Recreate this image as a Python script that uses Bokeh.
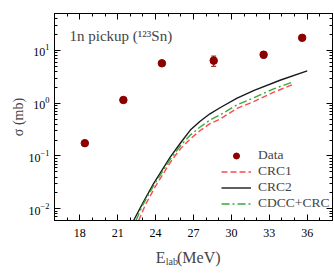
from bokeh.plotting import figure
from bokeh.layouts import column
from bokeh.models import (LinearAxis, LogAxis, SingleIntervalTicker, LogTicker, Range1d,
                          Label, Legend, LegendItem, Whisker, ColumnDataSource, TeeHead)
from bokeh.embed import file_html
from bokeh.resources import INLINE

# ---- data ----
data_E = [18.4, 21.45, 24.5, 28.6, 32.55, 35.6]
data_sigma = [0.175, 1.15, 5.7, 6.4, 8.3, 17.3]
data_err = [0.01, 0.06, 0.45, 1.4, 1.1, 1.0]

crc1_E = [22.66, 23.2, 24.0, 25.3, 26.0, 26.75, 27.5, 28.3, 29.1, 30.45, 31.8, 33.3, 34.95]
crc1_sigma = [0.006, 0.012, 0.027, 0.085, 0.14, 0.21, 0.30, 0.41, 0.5, 0.8, 1.08, 1.6, 2.3]

crc2_E = [22.26, 23.0, 23.84, 25.17, 26.0, 26.75, 27.5, 28.3, 29.1, 30.45, 31.8, 33.9, 36.0]
crc2_sigma = [0.006, 0.013, 0.030, 0.096, 0.18, 0.31, 0.45, 0.63, 0.82, 1.25, 1.75, 2.75, 4.1]

cdcc_E = [22.45, 23.0, 23.9, 25.2, 26.0, 26.75, 27.5, 28.3, 29.1, 30.45, 31.8, 33.3, 34.8]
cdcc_sigma = [0.006, 0.012, 0.029, 0.09, 0.16, 0.25, 0.35, 0.48, 0.6, 0.93, 1.28, 1.85, 2.5]

x_ticks_interval = 3
FONT = "Liberation Serif"

p = figure(frame_width=278, frame_height=207, y_axis_type="log",
           x_range=Range1d(16, 38), y_range=Range1d(0.006, 50),
           output_backend="svg", toolbar_location=None,
           min_border_left=54, min_border_top=13, min_border_right=2, min_border_bottom=21)
p.xgrid.visible = False
p.ygrid.visible = False
p.outline_line_color = "black"
p.outline_line_width = 1

xt = SingleIntervalTicker(interval=x_ticks_interval, num_minor_ticks=3)
yt = LogTicker(num_minor_ticks=10)

for ax in [p.xaxis[0], p.yaxis[0]]:
    ax.major_tick_in = 6
    ax.major_tick_out = 0
    ax.minor_tick_in = 3
    ax.minor_tick_out = 0
    ax.major_label_text_font = FONT
    ax.major_label_text_font_size = "12px"
    ax.major_label_text_color = "black"
    ax.axis_line_color = "black"
p.xaxis[0].ticker = xt
p.yaxis[0].ticker = yt
p.xaxis[0].major_label_standoff = 8
p.yaxis[0].major_label_standoff = 5
p.yaxis[0].axis_label = "σ (mb)"
p.yaxis[0].axis_label_text_font = FONT
p.yaxis[0].axis_label_text_font_size = "14px"
p.yaxis[0].axis_label_text_font_style = "normal"
p.yaxis[0].axis_label_standoff = 0

top = LinearAxis(ticker=xt, major_tick_in=6, major_tick_out=0, minor_tick_in=3, minor_tick_out=0,
                 major_label_text_font_size="1px", major_label_text_color=None, major_label_standoff=0)
right = LogAxis(ticker=yt, major_tick_in=6, major_tick_out=0, minor_tick_in=3, minor_tick_out=0,
                major_label_text_font_size="1px", major_label_text_color=None, major_label_standoff=0)
p.add_layout(top, "above")
p.add_layout(right, "right")

# curves
r_crc1 = p.line(crc1_E, crc1_sigma, line_color="#ff4a4a", line_width=1.4, line_dash="6 3")
r_crc2 = p.line(crc2_E, crc2_sigma, line_color="#1a1a1a", line_width=1.4)
r_cdcc = p.line(cdcc_E, cdcc_sigma, line_color="#3aa83a", line_width=1.4, line_dash="8 3 2 3")

src = ColumnDataSource(dict(x=data_E, y=data_sigma,
                            lo=[s - e for s, e in zip(data_sigma, data_err)],
                            hi=[s + e for s, e in zip(data_sigma, data_err)]))
wh = Whisker(source=src, base="x", lower="lo", upper="hi", line_color="#8b0000", line_width=1,
             upper_head=TeeHead(size=5, line_color="#8b0000"),
             lower_head=TeeHead(size=5, line_color="#8b0000"))
p.add_layout(wh)
r_data = p.scatter("x", "y", source=src, size=7.5, fill_color="#8b0000", line_color="#8b0000")

legend = Legend(items=[LegendItem(label="Data", renderers=[r_data]),
                       LegendItem(label="CRC1", renderers=[r_crc1]),
                       LegendItem(label="CRC2", renderers=[r_crc2]),
                       LegendItem(label="CDCC+CRC", renderers=[r_cdcc])],
                location=(167, 9), border_line_color=None, background_fill_alpha=0,
                label_text_font=FONT, label_text_font_size="13.5px",
                glyph_width=30, glyph_height=15, label_height=15, spacing=0,
                padding=0, margin=0, label_standoff=7)
p.add_layout(legend)

# title inside plot
p.add_layout(Label(x=15, y=185, x_units="screen", y_units="screen", text="1n pickup (¹²³Sn)",
                   text_font=FONT, text_font_size="15px", text_baseline="alphabetic"))

# x axis label (with subscript) in a thin strip below the plot (frame aligned with p)
p2 = figure(width=334, height=31, x_range=Range1d(0, 334), y_range=Range1d(0, 31),
            x_axis_type=None, y_axis_type=None, output_backend="svg", toolbar_location=None,
            min_border=0, outline_line_color=None)
p2.grid.visible = False
p2.add_layout(Label(x=101.3, y=14.7, x_units="screen", y_units="screen", text="E",
                    text_font=FONT, text_font_size="16px", text_baseline="alphabetic"))
p2.add_layout(Label(x=111.2, y=10.7, x_units="screen", y_units="screen", text="lab",
                    text_font=FONT, text_font_size="10px", text_baseline="alphabetic"))
p2.add_layout(Label(x=122.5, y=14.7, x_units="screen", y_units="screen", text="(MeV)",
                    text_font=FONT, text_font_size="16px", text_baseline="alphabetic"))

layout = column(p, p2, spacing=0)
open("out.html", "w").write(file_html(layout, INLINE))
